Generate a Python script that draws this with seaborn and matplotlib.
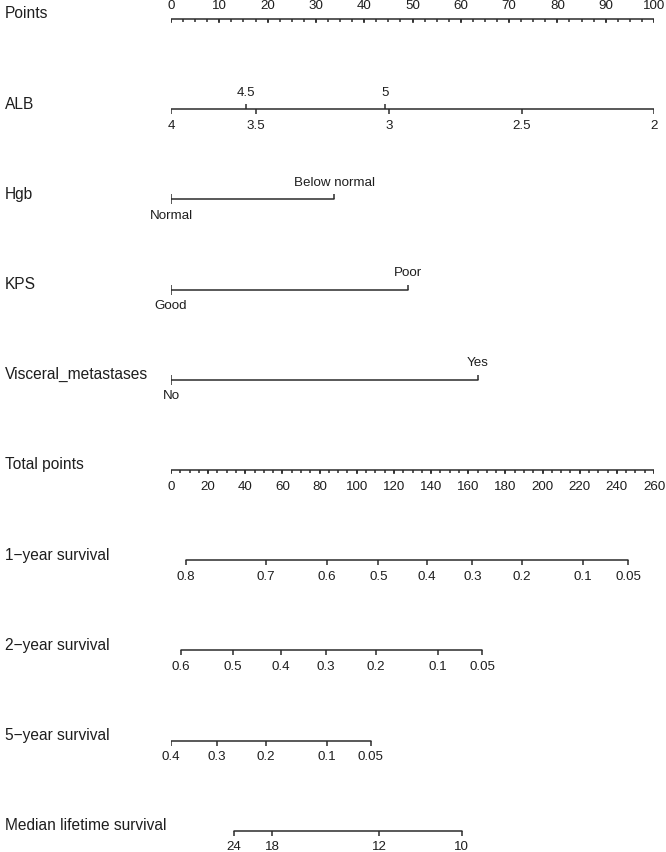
import numpy as np
import pandas as pd
import matplotlib
matplotlib.use("Agg")
import matplotlib.pyplot as plt
import seaborn as sns

sns.set_theme(style="white")
plt.rcParams['font.family'] = ['Liberation Sans', 'DejaVu Sans']

# row names (top to bottom)
row_names = ["Points", "ALB", "Hgb", "KPS", "Visceral_metastases", "Total points",
             "1\u2212year survival", "2\u2212year survival", "5\u2212year survival",
             "Median lifetime survival"]

# points scale
points_ticks = list(range(0, 101, 10))

# predictors: value labels and their points
alb_low_vals = ["4", "3.5", "3", "2.5", "2"]
alb_low_pts = [0, 17.6, 45.1, 72.6, 100]
alb_up_vals = ["4.5", "5"]
alb_up_pts = [15.5, 44.3]
hgb_vals = ["Normal", "Below normal"]
hgb_pts = [0, 33.8]
kps_vals = ["Good", "Poor"]
kps_pts = [0, 49.0]
visc_vals = ["No", "Yes"]
visc_pts = [0, 63.5]

# total points scale
total_ticks = list(range(0, 261, 20))
total_max = 260

# outcome scales: labels and the total points they sit at
surv1_lab = ["0.8", "0.7", "0.6", "0.5", "0.4", "0.3", "0.2", "0.1", "0.05"]
surv1_tot = [8.1, 51.1, 83.8, 111.6, 137.6, 162.2, 188.7, 221.6, 246.1]
surv2_lab = ["0.6", "0.5", "0.4", "0.3", "0.2", "0.1", "0.05"]
surv2_tot = [5.2, 33.2, 59.0, 83.4, 110.3, 143.5, 167.6]
surv5_lab = ["0.4", "0.3", "0.2", "0.1", "0.05"]
surv5_tot = [0, 24.6, 51.1, 83.8, 107.6]
median_lab = ["24", "18", "12", "10"]
median_tot = [33.9, 54.5, 112.0, 156.5]

W, H = 666, 852
fig = plt.figure(figsize=(W / 100, H / 100), dpi=100)
row_px = 90.2
top_px = 19
x0_px, x1_px = 171, 654
ax = fig.add_axes([x0_px / W, 0, (x1_px - x0_px) / W, 1])
ax.set_xlim(0, 100)
ax.set_ylim(-(9 + (H - (top_px + 9 * row_px)) / row_px), top_px / row_px)
ax.axis("off")

px = 1 / row_px          # one pixel in y data units
line_col = "#2b2b2b"
txt_col = "#1e1e1e"
lw = 1.1
fs_tick = 9.6
fs_row = 11.2


def tot2pts(t):
    return np.asarray(t, dtype=float) * 100 / total_max


def draw_scale(row, xs, labels, side="below", tick_len=5, minor=None, minor_len=3,
               line=True):
    y = -row
    xs = np.asarray(xs, dtype=float)
    if line:
        seg = pd.DataFrame({"x": [xs.min(), xs.max()], "y": [y, y]})
        sns.lineplot(data=seg, x="x", y="y", ax=ax, color=line_col, lw=lw,
                     estimator=None, sort=False)
    sgn = -1 if side == "below" else 1
    ax.vlines(xs, y, y + sgn * tick_len * px, color=line_col, lw=lw)
    if minor is not None:
        ax.vlines(minor, y, y - minor_len * px, color=line_col, lw=lw)
    off = 16.5 * px
    for x, lab in zip(xs, labels):
        ax.text(x, y + sgn * off, lab, ha="center", va="center",
                fontsize=fs_tick, color=txt_col, clip_on=False)


# row labels
for i, name in enumerate(row_names):
    ax.text((5 - x0_px) / (x1_px - x0_px) * 100, -i + 5 * px, name, ha="left",
            va="center", fontsize=fs_row, color=txt_col, clip_on=False)

# Points axis: ticks point down, labels above
y = 0
seg = pd.DataFrame({"x": [0, 100], "y": [y, y]})
sns.lineplot(data=seg, x="x", y="y", ax=ax, color=line_col, lw=lw, estimator=None)
ax.vlines(points_ticks, y, y - 4 * px, color=line_col, lw=lw)
ax.vlines(np.arange(0, 100.1, 2.5), y, y - 2.5 * px, color=line_col, lw=lw)
for t in points_ticks:
    ax.text(t, y + 13 * px, str(t), ha="center", va="center", fontsize=fs_tick,
            color=txt_col, clip_on=False)

# ALB
draw_scale(1, alb_low_pts, alb_low_vals, "below")
draw_scale(1, alb_up_pts, alb_up_vals, "above", line=False)
# categorical predictors
draw_scale(2, hgb_pts[:1], hgb_vals[:1], "below", line=False)
draw_scale(2, hgb_pts, ["", hgb_vals[1]], "above")
draw_scale(3, kps_pts[:1], kps_vals[:1], "below", line=False)
draw_scale(3, kps_pts, ["", kps_vals[1]], "above")
draw_scale(4, visc_pts[:1], visc_vals[:1], "below", line=False)
draw_scale(4, visc_pts, ["", visc_vals[1]], "above")

# Total points
draw_scale(5, tot2pts(total_ticks), [str(t) for t in total_ticks], "below",
           tick_len=4, minor=tot2pts(np.arange(0, 261, 5)), minor_len=2.5)

# outcomes
draw_scale(6, tot2pts(surv1_tot), surv1_lab)
draw_scale(7, tot2pts(surv2_tot), surv2_lab)
draw_scale(8, tot2pts(surv5_tot), surv5_lab)
draw_scale(9, tot2pts(median_tot), median_lab)

fig.savefig("out.png", dpi=100, facecolor="white")
